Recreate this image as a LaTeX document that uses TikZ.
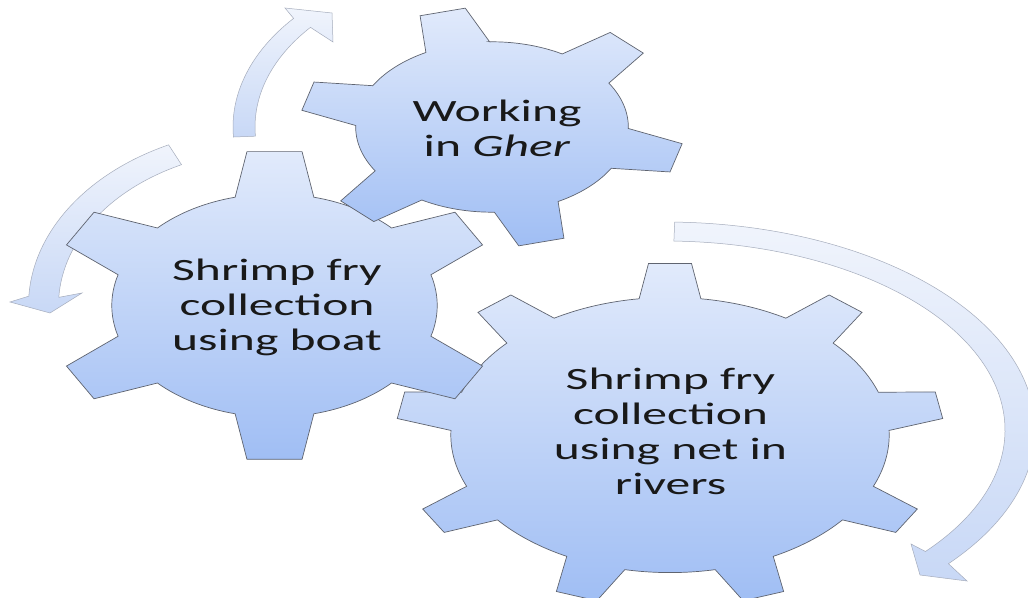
\documentclass[tikz,border=0pt]{standalone}
\usepackage{fontspec}
\setmainfont{Carlito}
\definecolor{gearTop}{RGB}{225,234,251}
\definecolor{gearBot}{RGB}{160,190,244}
\definecolor{gearLine}{RGB}{95,100,112}
\definecolor{arrTop}{RGB}{240,244,252}
\definecolor{arrBot}{RGB}{200,216,246}
\definecolor{arrLine}{RGB}{165,172,188}
\tikzset{
  gearshape/.style={draw=gearLine, line width=0.7pt, top color=gearTop, bottom color=gearBot, line join=miter},
  arrowshape/.style={draw=arrLine, line width=0.5pt, top color=arrTop, bottom color=arrBot},
  gtext/.style={align=center, font=\fontsize{31}{35}\selectfont, text=black!90, xscale=1.6, inner sep=0pt},
}
% cx cy rx ry N phi rin half-tip half-base
\newcommand\drawgear[9]{%
  \begin{scope}[shift={(#1,#2)}, xscale=#3, yscale=#4]
    \path[gearshape] ({#6-#9}:#7)
      \foreach \k in {1,...,#5}{
        -- ({#6+(\k-1)*360/#5-#8}:1) -- ({#6+(\k-1)*360/#5+#8}:1)
        -- ({#6+(\k-1)*360/#5+#9}:#7)
        arc[start angle={#6+(\k-1)*360/#5+#9}, end angle={#6+\k*360/#5-#9}, radius=#7]
      } -- cycle;
  \end{scope}}
\begin{document}
\begin{tikzpicture}[x=1pt,y=1pt]
\useasboundingbox (0,0) rectangle (1028,597);
\fill[white] (0,0) rectangle (1028,597);

% arrows
\begin{scope}[shift={(492,470)}]
  \path[arrowshape] (183.4:259 and 169)
    arc[start angle=183.4, end angle=140, x radius=259, y radius=169]
    -- (-207,119) -- (-160,114) -- (-159,85)
    -- (140:237 and 155)
    arc[start angle=140, end angle=183.4, x radius=237, y radius=155] -- cycle;
\end{scope}
\begin{scope}[shift={(274.5,291.5)}]
  \path[arrowshape] (115.5:246 and 178)
    arc[start angle=115.5, end angle=177, x radius=246, y radius=178]
    -- (-264.5,3.5) -- (-224.5,-7.5) -- (-192.5,12.5)
    -- (177:216 and 156)
    arc[start angle=177, end angle=115.5, x radius=216, y radius=156] -- cycle;
\end{scope}
\begin{scope}[shift={(665,167)}]
  \path[arrowshape] (88.5:370 and 208)
    arc[start angle=88.5, end angle=-40, x radius=370, y radius=208]
    -- (302,-151) -- (255,-145) -- (246,-114)
    -- (-40:340 and 189)
    arc[start angle=-40, end angle=88.5, x radius=340, y radius=189] -- cycle;
\end{scope}

% gears
\drawgear{670}{162}{274}{172}{9}{90}{0.8}{4.5}{8.1}
\drawgear{274.5}{291.5}{226}{155}{6}{90}{0.72}{7}{14}
\drawgear{492}{470}{192}{120}{6}{105}{0.71}{7}{14}

% texts
\node[gtext] (tboat) at (277,289.5) {Shrimp fry\\collection\\using boat};
\node[gtext] (tgher) at (497,469) {Working\\in \textit{Gher}};
\node[gtext] (tnet) at (670.5,165.5) {Shrimp fry\\collection\\using net in\\rivers};
\end{tikzpicture}
\end{document}
